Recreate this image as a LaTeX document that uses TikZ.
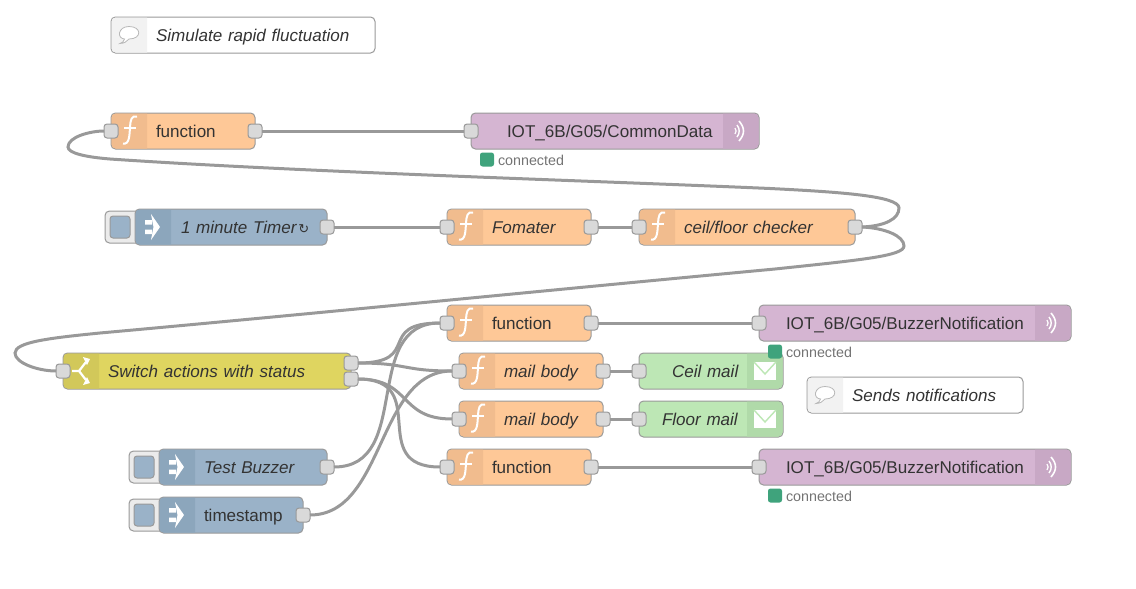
\documentclass[tikz,border=0pt]{standalone}
\usepackage{fontspec}
\setmainfont{Liberation Sans}
\newfontfamily\symfont{DejaVu Sans}
\usetikzlibrary{positioning}
\definecolor{fnfill}{HTML}{FEC897}
\definecolor{fnstrip}{HTML}{F1BC8E}
\definecolor{injfill}{HTML}{9AB2C8}
\definecolor{injstrip}{HTML}{8CA6BC}
\definecolor{mqttfill}{HTML}{D5B5D2}
\definecolor{mqttstrip}{HTML}{C8A8C5}
\definecolor{swfill}{HTML}{DFD560}
\definecolor{swstrip}{HTML}{D2C85A}
\definecolor{mailfill}{HTML}{BDE7B5}
\definecolor{mailstrip}{HTML}{B0DAA9}
\definecolor{edge}{HTML}{999999}
\definecolor{wirec}{HTML}{999999}
\definecolor{labelc}{HTML}{333333}
\definecolor{okc}{HTML}{3FA37C}
% icon strips, left or right end of a node
\newcommand{\leftstrip}[1]{\fill[#1] (36,-17.5) [rounded corners=4pt] -- (0.5,-17.5) -- (0.5,17.5) [sharp corners] -- (36,17.5) -- cycle;}
\newcommand{\rightstrip}[1]{\fill[#1] (-36,-17.5) [rounded corners=4pt] -- (-0.5,-17.5) -- (-0.5,17.5) [sharp corners] -- (-36,17.5) -- cycle;}
\newcommand{\fnicon}[1]{\begin{scope}[shift={(#1.west)}]
  \leftstrip{fnstrip}
  \draw[white,line width=2pt] (26,-14.5) .. controls (20.5,-16) and (19.5,-11) .. (19,-4) .. controls (18.5,4) and (18.5,14) .. (12,12.5);
  \draw[white,line width=2pt] (13,-3.5) -- (25,-3.5);
\end{scope}}
\newcommand{\injicon}[1]{\begin{scope}[shift={(#1.west)}]
  \leftstrip{injstrip}
  \fill[white] (10,-7) -- (17,-7) -- (17,-2.5) -- (10,-2.5) -- cycle (10,2.5) -- (17,2.5) -- (17,7) -- (10,7) -- cycle;
  \fill[white] (16,-13) -- (25,0) -- (16,13) -- (18.5,0) -- cycle;
\end{scope}}
\newcommand{\swicon}[1]{\begin{scope}[shift={(#1.west)}]
  \leftstrip{swstrip}
  \draw[white,line width=2.2pt] (9,0) -- (16,0) -- (23,-9) (16,0) -- (23,9);
  \fill[white] (20,-14) -- (27,-12) -- (24,-6) -- cycle (20,14) -- (27,12) -- (24,6) -- cycle;
\end{scope}}
\newcommand{\mqtticon}[1]{\begin{scope}[shift={(#1.east)}]
  \rightstrip{mqttstrip}
  \draw[white,line width=1.2pt] (-24,-3) .. controls (-22.5,-1) and (-22.5,1) .. (-24,3);
  \draw[white,line width=1.4pt] (-22,-6) .. controls (-19,-2) and (-19,2) .. (-22,6);
  \draw[white,line width=1.6pt] (-20,-10) .. controls (-14,-3) and (-14,3) .. (-20,10);
\end{scope}}
\newcommand{\mailicon}[1]{\begin{scope}[shift={(#1.east)}]
  \rightstrip{mailstrip}
  \fill[white] (-29,-9) rectangle (-7,9);
  \draw[mailfill,line width=1.4pt] (-29,-9) -- (-18,3) -- (-7,-9);
\end{scope}}
\newcommand{\noteicon}[1]{\begin{scope}[shift={(#1.west)}]
  \leftstrip{black!5}
  \draw[black!28,line width=.8pt,fill=white] (18,-8.5) .. controls (7,-8.5) and (5.5,3.5) .. (13.5,4) .. controls (13.5,6) and (11,8) .. (9,8.5) .. controls (13,8.5) and (16,6.5) .. (18,4) .. controls (31,4) and (31,-8.5) .. (18,-8.5) -- cycle;
\end{scope}}
\tikzset{
  flownode/.style={rectangle, draw=edge, line width=1pt, outer sep=0pt, rounded corners=4.5pt, minimum height=36pt, inner xsep=0pt, inner ysep=0pt, text height=12pt, text depth=0pt, align=left, anchor=west, text=labelc, font=\fontsize{17.05}{20}\selectfont},
  labelpad/.style={execute at begin node={\hspace*{#1pt}}},
  funcnode/.style={flownode, text width=#1pt, fill=fnfill},
  injectnode/.style={flownode, text width=#1pt, fill=injfill},
  switchnode/.style={flownode, text width=#1pt, fill=swfill},
  mqttnode/.style={flownode, text width=#1pt, fill=mqttfill},
  mailnode/.style={flownode, text width=#1pt, fill=mailfill},
  notenode/.style={flownode, text width=#1pt, fill=white},
  injecttab/.style={rectangle, draw=edge, line width=1pt, outer sep=0pt, rounded corners=4.5pt, fill=black!8, minimum width=36pt, minimum height=32pt, inner sep=0pt, anchor=west},
  injectbtn/.style={rectangle, draw=edge, line width=1pt, outer sep=0pt, rounded corners=3pt, fill=injfill, minimum width=20pt, minimum height=22pt, inner sep=0pt},
  port/.style={rectangle, draw=edge, line width=1pt, outer sep=0pt, rounded corners=3pt, fill=black!15, minimum width=14pt, minimum height=14pt, inner sep=0pt},
  okdot/.style={rectangle, rounded corners=2.5pt, outer sep=0pt, fill=okc, minimum width=14pt, minimum height=14pt, inner sep=0pt},
  oktext/.style={text=black!55, font=\fontsize{14.3}{16}\selectfont, inner sep=0pt, outer sep=0pt, anchor=west},
  wire/.style={draw=wirec, line width=3pt}
}
\begin{document}
\begin{tikzpicture}[x=1pt, y=-1pt, node distance=48pt]
\useasboundingbox (0,0) rectangle (1136,589);

\node[notenode=264, labelpad=45] (noterapid) at (111,35) {\itshape Simulate rapid fluctuation};

\node[funcnode=144, labelpad=45] (fnpublish) at (111,131) {function};
\node[mqttnode=288, labelpad=36] (mqttcommon) at (471,131) {IOT\_6B/G05/CommonData};

\node[injecttab] (timertab) at (105,227) {};
\node[injectnode=192, labelpad=46, right=-6pt of timertab] (timer) {\itshape 1 minute Timer\kern2pt{\symfont\fontsize{13}{16}\selectfont ↻}};
\node[funcnode=144, labelpad=45] (fomater) at (447,227) {\itshape Fomater};
\node[funcnode=216, labelpad=45, right=of fomater] (checker) {\itshape ceil/floor checker};

\node[funcnode=144, labelpad=45] (fnbuzzon) at (447,323) {function};
\node[mqttnode=312, labelpad=27] (mqttbuzzon) at (759,323) {IOT\_6B/G05/BuzzerNotification};

\node[switchnode=288, labelpad=45] (status) at (63,371) {\itshape Switch actions with status};
\node[funcnode=144, labelpad=45] (bodyceil) at (459,371) {\itshape mail body};
\node[mailnode=144, labelpad=33] (mailceil) at (639,371) {\itshape Ceil mail};
\node[funcnode=144, labelpad=45] (bodyfloor) at (459,419) {\itshape mail body};
\node[mailnode=144, labelpad=23] (mailfloor) at (639,419) {\itshape Floor mail};
\node[notenode=216, labelpad=45] (notesend) at (807,395) {\itshape Sends notifications};

\node[funcnode=144, labelpad=45] (fnbuzzoff) at (447,467) {function};
\node[mqttnode=312, labelpad=27] (mqttbuzzoff) at (759,467) {IOT\_6B/G05/BuzzerNotification};

\node[injecttab] (testtab) at (129,467) {};
\node[injectnode=168, labelpad=45, right=-6pt of testtab] (testbuzz) {\itshape Test Buzzer};
\node[injecttab] (stamptab) at (129,515) {};
\node[injectnode=144, labelpad=45, right=-6pt of stamptab] (stamp) {timestamp};

% inject buttons
\node[injectbtn, right=5pt of timertab.west] (timerbtn) {};
\node[injectbtn, right=5pt of testtab.west] (testbtn) {};
\node[injectbtn, right=5pt of stamptab.west] (stampbtn) {};

% icons
\foreach \n in {fnpublish,fomater,checker,fnbuzzon,bodyceil,bodyfloor,fnbuzzoff} {\fnicon{\n}}
\foreach \n in {timer,testbuzz,stamp} {\injicon{\n}}
\foreach \n in {mqttcommon,mqttbuzzon,mqttbuzzoff} {\mqtticon{\n}}
\foreach \n in {mailceil,mailfloor} {\mailicon{\n}}
\foreach \n in {noterapid,notesend} {\noteicon{\n}}
\swicon{status}

% ports
\foreach \n in {fnpublish,mqttcommon,fomater,checker,fnbuzzon,mqttbuzzon,status,bodyceil,mailceil,bodyfloor,mailfloor,fnbuzzoff,mqttbuzzoff}
  \node[port] (\n in) at (\n.west) {};
\foreach \n in {fnpublish,timer,fomater,checker,fnbuzzon,bodyceil,bodyfloor,fnbuzzoff,testbuzz,stamp}
  \node[port] (\n out) at (\n.east) {};
\node[port, yshift=8pt] (statusa) at (status.east) {};
\node[port, yshift=-8pt] (statusb) at (status.east) {};

% status
\node[okdot] (okcommon) at (487,159.5) {};
\node[oktext, right=4pt of okcommon.east, yshift=-.5pt] (okcommontext) {connected};
\node[okdot] (okon) at (775,351.5) {};
\node[oktext, right=4pt of okon.east, yshift=-.5pt] (okontext) {connected};
\node[okdot] (okoff) at (775,495.5) {};
\node[oktext, right=4pt of okoff.east, yshift=-.5pt] (okofftext) {connected};

% wires
\draw[wire] (fnpublishout.east) -- (mqttcommonin.west);
\draw[wire] (timerout.east) -- (fomaterin.west);
\draw[wire] (fomaterout.east) -- (checkerin.west);
\draw[wire] (fnbuzzonout.east) -- (mqttbuzzonin.west);
\draw[wire] (bodyceilout.east) -- (mailceilin.west);
\draw[wire] (bodyfloorout.east) -- (mailfloorin.west);
\draw[wire] (fnbuzzoffout.east) -- (mqttbuzzoffin.west);

\draw[wire] (checkerout.east) .. controls (885,226) and (899,219) .. (899,208) .. controls (899,196) and (840,192) .. (770,188.5) .. controls (600,181) and (300,172) .. (110,159) .. controls (85,157) and (68,153) .. (68,147) .. controls (68,137) and (90,131) .. (fnpublishin.west);
\draw[wire] (checkerout.east) .. controls (885,228) and (904,236) .. (904,246) .. controls (904,256) and (860,260) .. (775,269) .. controls (550,290) and (300,315) .. (100,333) .. controls (50,338) and (15,342) .. (15,353) .. controls (15,363) and (38,371) .. (statusin.west);

\draw[wire] (statusa.east) .. controls +(65,0) and +(-65,0) .. (fnbuzzonin.west);
\draw[wire] (statusa.east) .. controls +(50,0) and +(-50,0) .. (bodyceilin.west);
\draw[wire] (statusb.east) .. controls +(54,0) and +(-54,0) .. (bodyfloorin.west);
\draw[wire] (statusb.east) .. controls +(75,0) and +(-75,0) .. (fnbuzzoffin.west);
\draw[wire] (testbuzzout.east) .. controls +(80,0) and +(-80,0) .. (fnbuzzonin.west);
\draw[wire] (stampout.east) .. controls +(75,0) and +(-75,0) .. (bodyceilin.west);
\end{tikzpicture}
\end{document}
